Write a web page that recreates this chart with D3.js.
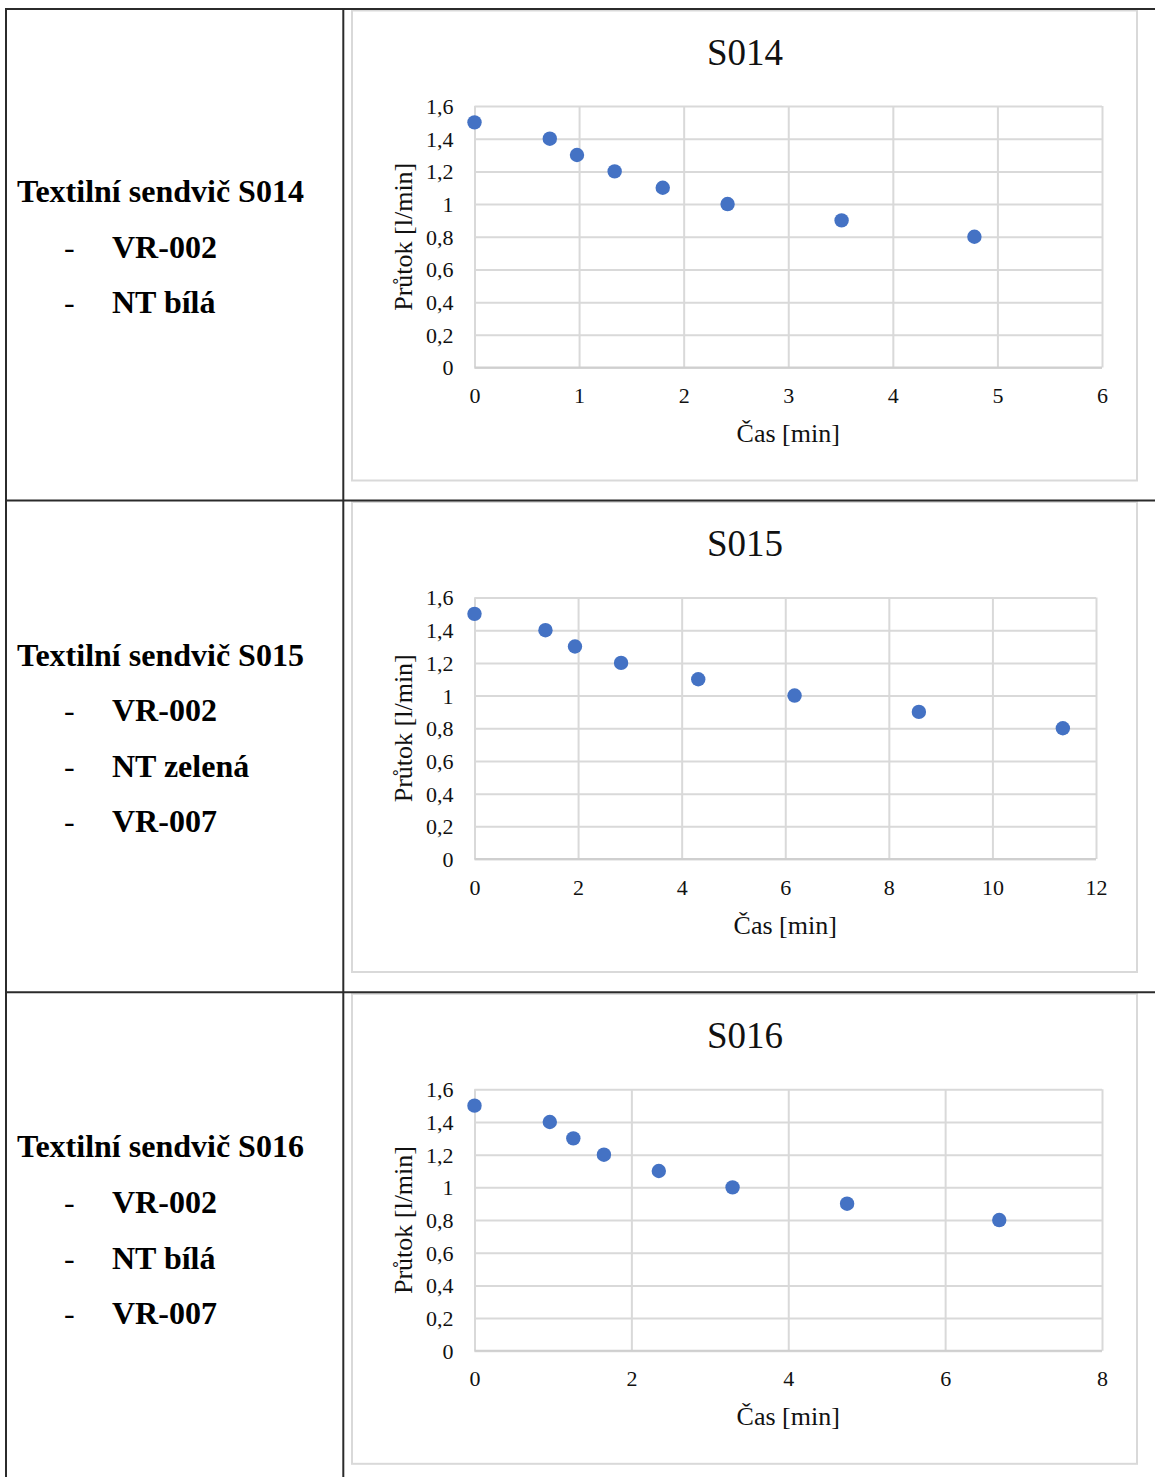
<!DOCTYPE html>
<html><head><meta charset="utf-8">
<script src="https://cdn.jsdelivr.net/npm/d3@7"></script>
<style>
html,body{margin:0;padding:0;background:#fff;}
svg{display:block;}
text{font-family:"Liberation Serif","Times New Roman",serif;}
</style></head>
<body>
<script>
// ---- data ----
const chartTitles = ["S014", "S015", "S016"];
const rowHeadings = ["Textilní sendvič S014", "Textilní sendvič S015", "Textilní sendvič S016"];
const rowLayers = [
  ["VR-002", "NT bílá"],
  ["VR-002", "NT zelená", "VR-007"],
  ["VR-002", "NT bílá", "VR-007"]
];
const timeS014 = [0, 0.72, 0.98, 1.34, 1.80, 2.42, 3.51, 4.78];
const flowS014 = [1.5, 1.4, 1.3, 1.2, 1.1, 1.0, 0.9, 0.8];
const timeS015 = [0, 1.37, 1.94, 2.83, 4.32, 6.18, 8.58, 11.36];
const flowS015 = [1.5, 1.4, 1.3, 1.2, 1.1, 1.0, 0.9, 0.8];
const timeS016 = [0, 0.96, 1.26, 1.65, 2.35, 3.29, 4.75, 6.69];
const flowS016 = [1.5, 1.4, 1.3, 1.2, 1.1, 1.0, 0.9, 0.8];
const xTicksS014 = [0, 1, 2, 3, 4, 5, 6];
const xTicksS015 = [0, 2, 4, 6, 8, 10, 12];
const xTicksS016 = [0, 2, 4, 6, 8];
const yTickValues = [0, 0.2, 0.4, 0.6, 0.8, 1.0, 1.2, 1.4, 1.6];
const yTickLabels = ["0", "0,2", "0,4", "0,6", "0,8", "1", "1,2", "1,4", "1,6"];
const xAxisTitle = "Čas [min]";
const yAxisTitle = "Průtok [l/min]";

const series = [
  {title: chartTitles[0], t: timeS014, q: flowS014, ticks: xTicksS014, right: 1102},
  {title: chartTitles[1], t: timeS015, q: flowS015, ticks: xTicksS015, right: 1096},
  {title: chartTitles[2], t: timeS016, q: flowS016, ticks: xTicksS016, right: 1102}
];

// ---- layout ----
const W = 1155, H = 1477;
const rowTops = [9, 500.5, 992.3];
const divX = 343.3, leftX = 6;
const lineColor = "#2b2b2b";
const gridColor = "#d9d9d9";
const markColor = "#4472C4";

const svg = d3.select("body").append("svg").attr("width", W).attr("height", H);

rowTops.forEach((top, i) => {
  const s = series[i];
  const g = svg.append("g");

  // chart frame
  g.append("rect")
    .attr("x", 352).attr("y", top + 1.5)
    .attr("width", 1137 - 352).attr("height", 470)
    .attr("fill", "#fff").attr("stroke", gridColor).attr("stroke-width", 2);

  const x = d3.scaleLinear().domain([s.ticks[0], s.ticks[s.ticks.length - 1]]).range([474.5, s.right]);
  const y = d3.scaleLinear().domain([0, 1.6]).range([top + 358.5, top + 97]);

  // gridlines
  const yAxis = d3.axisLeft(y).tickValues(yTickValues).tickSize(-(s.right - 474.5))
    .tickFormat((d, k) => yTickLabels[k]).tickPadding(21);
  const ya = g.append("g").attr("transform", `translate(474.5,0)`).call(yAxis);
  ya.select(".domain").remove();
  ya.selectAll(".tick line").attr("stroke", gridColor).attr("stroke-width", 2);
  ya.selectAll(".tick text").attr("font-size", 22).attr("fill", "#111")
    .attr("font-family", "'Liberation Serif', serif").attr("dy", "0.34em");

  const xAxis = d3.axisBottom(x).tickValues(s.ticks).tickSize(-(y(0) - y(1.6)))
    .tickFormat(d => String(d)).tickPadding(20);
  const xa = g.append("g").attr("transform", `translate(0,${y(0)})`).call(xAxis);
  xa.select(".domain").remove();
  xa.selectAll(".tick line").attr("stroke", gridColor).attr("stroke-width", 2);
  xa.selectAll(".tick text").attr("font-size", 22).attr("fill", "#111")
    .attr("font-family", "'Liberation Serif', serif");

  // axis base line
  g.append("line").attr("x1", 474.5).attr("x2", s.right).attr("y1", y(0)).attr("y2", y(0))
    .attr("stroke", "#cfcfcf").attr("stroke-width", 2);

  // points
  g.selectAll("circle.pt").data(s.t.map((t, k) => ({t, q: s.q[k]}))).enter()
    .append("circle").attr("class", "pt")
    .attr("cx", d => x(d.t)).attr("cy", d => y(d.q)).attr("r", 7.2)
    .attr("fill", markColor);

  // title
  g.append("text").attr("x", 745).attr("y", top + 55.5).attr("text-anchor", "middle")
    .attr("font-size", 37).attr("fill", "#111").text(s.title);

  // axis titles
  g.append("text").attr("x", (474.5 + s.right) / 2).attr("y", top + 433)
    .attr("text-anchor", "middle").attr("font-size", 26).attr("fill", "#111").text(xAxisTitle);
  g.append("text").attr("transform", `translate(412,${(y(0) + y(1.6)) / 2}) rotate(-90)`)
    .attr("text-anchor", "middle").attr("font-size", 26).attr("fill", "#111").text(yAxisTitle);

  // left cell text
  const lines = rowLayers[i].length + 1;
  const lineGap = 55.6;
  const centerY = top + 238;
  const firstY = centerY - (lines - 1) * lineGap / 2;
  g.append("text").attr("x", 17).attr("y", firstY + 10.5)
    .attr("font-size", 32).attr("font-weight", "bold").attr("fill", "#000").text(rowHeadings[i]);
  rowLayers[i].forEach((name, k) => {
    const yy = firstY + (k + 1) * lineGap + 10.5;
    g.append("text").attr("x", 64).attr("y", yy).attr("font-size", 32).attr("fill", "#000").text("-");
    g.append("text").attr("x", 112).attr("y", yy).attr("font-size", 32)
      .attr("font-weight", "bold").attr("fill", "#000").text(name);
  });
});

// table lines
const tl = svg.append("g").attr("stroke", lineColor).attr("stroke-width", 2);
tl.append("line").attr("x1", 5).attr("x2", W).attr("y1", 9).attr("y2", 9);
tl.append("line").attr("x1", 5).attr("x2", W).attr("y1", rowTops[1]).attr("y2", rowTops[1]);
tl.append("line").attr("x1", 5).attr("x2", W).attr("y1", rowTops[2]).attr("y2", rowTops[2]);
tl.append("line").attr("x1", leftX).attr("x2", leftX).attr("y1", 8).attr("y2", H);
tl.append("line").attr("x1", divX).attr("x2", divX).attr("y1", 8).attr("y2", H);
</script>
</body></html>
